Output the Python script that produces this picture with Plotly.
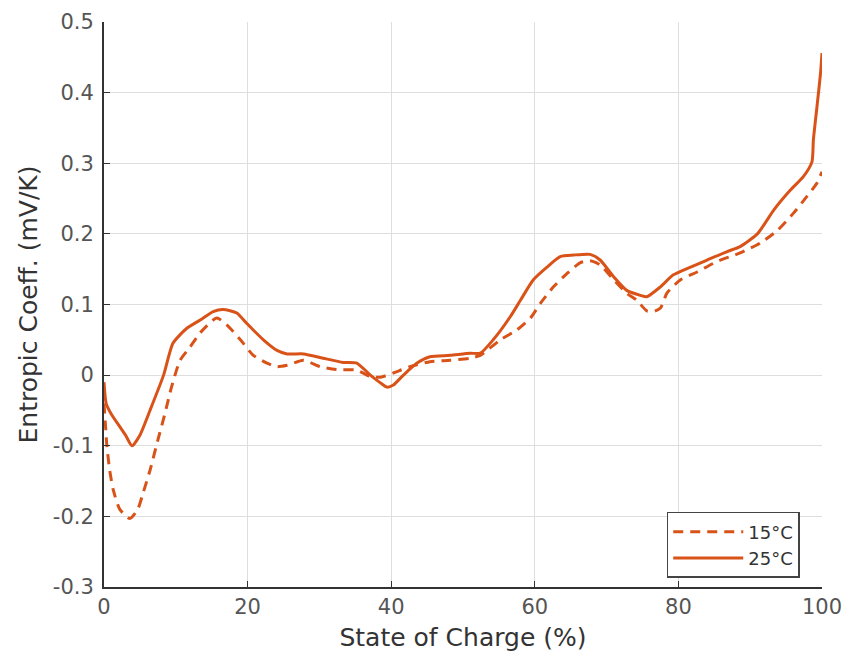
import plotly.graph_objects as go

# 15°C (dashed)
soc_15 = [0, 0.2, 0.4, 0.8, 1.3, 2.2, 3.6, 4.7, 5.5, 6.4, 7.5, 8.5, 9.4, 10.6, 12.0, 13.4,
          15.7, 17.1, 19.0, 20.8, 22.7, 24.1, 25.5, 27.8, 30.1, 32.4, 35.2, 37.1, 38.5,
          40.3, 42.6, 45.4, 48.2, 51.0, 52.4, 55.2, 57.5, 59.4, 60.8, 62.6, 64.5, 66.3,
          67.7, 69.1, 71.0, 72.8, 74.2, 75.6, 76.5, 77.5, 78.4, 80.3, 82.6, 85.4, 88.6,
          91.4, 93.8, 96.0, 97.9, 99.3, 100.0]
ec_15 = [-0.04, -0.07, -0.10, -0.135, -0.163, -0.19, -0.203, -0.19, -0.165, -0.135, -0.092,
         -0.054, -0.017, 0.021, 0.040, 0.060, 0.081, 0.071, 0.050, 0.028, 0.017, 0.012,
         0.014, 0.021, 0.012, 0.008, 0.007, -0.002, -0.003, 0.003, 0.012, 0.019, 0.021,
         0.024, 0.028, 0.050, 0.064, 0.081, 0.102, 0.125, 0.144, 0.159, 0.162, 0.156,
         0.135, 0.116, 0.106, 0.091, 0.090, 0.095, 0.116, 0.135, 0.146, 0.161, 0.173,
         0.187, 0.205, 0.229, 0.253, 0.272, 0.288]

# 25°C (solid)
soc_25 = [0, 0.3, 1.0, 2.0, 3.0, 3.9, 5.0, 6.4, 8.3, 9.6, 11.5, 13.4, 15.2, 16.6, 18.5,
          19.9, 22.2, 24.1, 25.5, 27.8, 30.5, 33.3, 35.2, 37.1, 38.5, 39.4, 40.3, 41.7,
          43.6, 45.4, 48.2, 51.0, 52.4, 54.2, 56.6, 58.0, 59.8, 61.7, 63.6, 65.4, 67.7,
          69.1, 71.0, 72.8, 74.7, 75.6, 77.5, 79.3, 81.7, 84.0, 86.8, 88.6, 91.0, 93.3,
          95.6, 97.4, 98.6, 98.8, 99.3, 99.8, 100.0]
ec_25 = [-0.01, -0.04, -0.055, -0.07, -0.085, -0.10, -0.085, -0.05, 0.0, 0.045, 0.066,
         0.078, 0.090, 0.093, 0.088, 0.073, 0.050, 0.035, 0.030, 0.030, 0.024, 0.018,
         0.017, 0.0, -0.011, -0.017, -0.014, 0.0, 0.017, 0.026, 0.028, 0.031, 0.031,
         0.050, 0.083, 0.106, 0.135, 0.153, 0.168, 0.170, 0.171, 0.163, 0.139, 0.120,
         0.113, 0.111, 0.125, 0.142, 0.153, 0.163, 0.175, 0.182, 0.200, 0.234, 0.262,
         0.281, 0.302, 0.333, 0.380, 0.428, 0.456]

x_ticks = [0, 20, 40, 60, 80, 100]
y_ticks = [0.5, 0.4, 0.3, 0.2, 0.1, 0, -0.1, -0.2, -0.3]
y_tick_labels = ["0.5", "0.4", "0.3", "0.2", "0.1", "0", "-0.1", "-0.2", "-0.3"]

color = "#D95319"
fig = go.Figure()
fig.add_trace(go.Scatter(x=soc_15, y=ec_15, mode="lines", name="15°C",
                         line=dict(color=color, width=3, dash="10px,7px", shape="spline", smoothing=0.6)))
fig.add_trace(go.Scatter(x=soc_25, y=ec_25, mode="lines", name="25°C",
                         line=dict(color=color, width=3, shape="spline", smoothing=0.6)))

axis_font = dict(family="DejaVu Sans", size=21, color="#555555")
title_font = dict(family="DejaVu Sans", size=25, color="#333333")
fig.update_layout(
    width=845, height=657,
    margin=dict(l=104, r=23, t=22, b=70),
    paper_bgcolor="white", plot_bgcolor="white",
    font=dict(family="DejaVu Sans", color="#333333"),
    showlegend=True,
    legend=dict(x=0.969, y=0.016, xanchor="right", yanchor="bottom",
                bordercolor="#444444", borderwidth=1.5, bgcolor="white",
                font=dict(family="DejaVu Sans", size=18, color="#333333"),
                tracegroupgap=0, itemwidth=70),
    xaxis=dict(range=[0, 100], tickvals=x_ticks, showgrid=True, gridcolor="#dedede",
               gridwidth=1, showline=True, linecolor="#333333", linewidth=2,
               ticks="inside", ticklen=6, tickcolor="#333333", tickfont=axis_font,
               zeroline=False, mirror=False, automargin=False,
               title=dict(text="State of Charge (%)", font=title_font, standoff=10)),
    yaxis=dict(range=[-0.3, 0.5], tickvals=y_ticks, ticktext=y_tick_labels, showgrid=True,
               gridcolor="#dedede", gridwidth=1, showline=True, linecolor="#333333",
               linewidth=2, ticks="inside", ticklen=6, tickcolor="#333333",
               tickfont=axis_font, zeroline=False, mirror=False, automargin=False,
               ticklabelstandoff=4,
               title=dict(text="Entropic Coeff. (mV/K)", font=title_font, standoff=8)),
)

fig.write_html("out.html")
